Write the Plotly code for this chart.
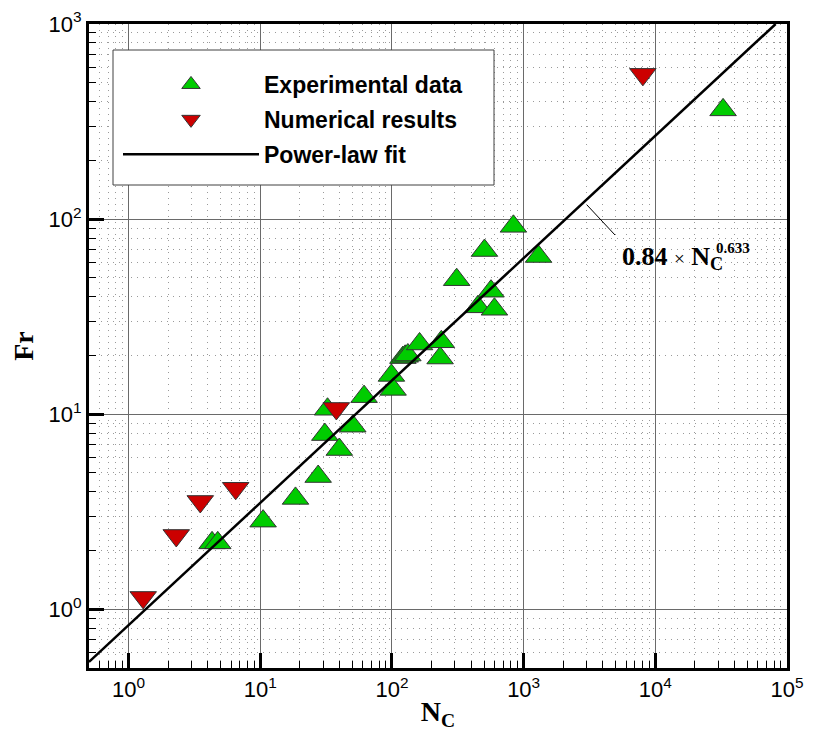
import plotly.graph_objects as go

# ---- data ----
exp_N = [4.3, 4.75, 10.5, 18.5, 27.5, 30.9, 32.4, 39.8, 50.4, 61.4, 99, 102,
         121, 126, 132, 162, 232, 237, 310, 449, 504, 565, 600, 836, 1297, 32700]
exp_Fr = [2.19, 2.19, 2.83, 3.70, 4.79, 7.86, 10.6, 6.59, 8.68, 12.3, 15.8, 13.4,
          19.5, 19.8, 20.1, 22.9, 19.4, 23.5, 48.9, 35.5, 69.0, 42.7, 34.5, 91.8, 64.3, 363]

num_N = [1.29, 2.30, 3.5, 6.5, 37.8, 8040]
num_Fr = [1.15, 2.39, 3.57, 4.17, 10.7, 552]

fit_N = [0.5, 82000]
fit_Fr = [0.537, 1000]

x_tick_vals = [1, 10, 100, 1000, 10000, 100000]
x_tick_text = ["10<sup>0</sup>", "10<sup>1</sup>", "10<sup>2</sup>",
               "10<sup>3</sup>", "10<sup>4</sup>", "10<sup>5</sup>"]
y_tick_vals = [1, 10, 100, 1000]
y_tick_text = ["10<sup>0</sup>", "10<sup>1</sup>", "10<sup>2</sup>", "10<sup>3</sup>"]

x_minor = [m * 10 ** e for e in range(-1, 5) for m in range(2, 10) if m * 10 ** e > 0.5]
y_minor = [m * 10 ** e for e in range(-1, 3) for m in range(2, 10) if m * 10 ** e > 0.5]

# page body has an 8px margin, so the figure is placed at (8, 8) in the window
OFF = 8
W, H = 814 - OFF, 731 - OFF
L, R, T, B = 89 - OFF, 27, 24 - OFF, 63
PW, PH = W - L - R, H - T - B


def px(xp):
    return (xp - OFF - L) / PW


def py(yp):
    return 1 - (yp - OFF - T) / PH


fig = go.Figure()
fig.add_trace(go.Scatter(
    x=exp_N, y=exp_Fr, mode="markers", name="Experimental data", legendgroup="a",
    marker=dict(symbol="triangle-up", size=23, color="#00CC00",
                line=dict(color="#333333", width=1))))
fig.add_trace(go.Scatter(
    x=num_N, y=num_Fr, mode="markers", name="Numerical results", legendgroup="b",
    marker=dict(symbol="triangle-down", size=23, color="#CC0000",
                line=dict(color="#333333", width=1))))
fig.add_trace(go.Scatter(
    x=fit_N, y=fit_Fr, mode="lines", name="Power-law fit", legendgroup="c",
    line=dict(color="black", width=2.5)))

axis_common = dict(
    type="log", showline=True, linecolor="black", linewidth=3, mirror=True,
    ticks="inside", ticklen=15, tickwidth=3, tickcolor="black",
    showgrid=True, gridcolor="#6a6a6a", gridwidth=1, zeroline=False,
    tickfont=dict(family="Liberation Sans, Arial", size=22, color="black"),
)

fig.update_xaxes(
    **axis_common, range=[-0.30103, 5], tickmode="array",
    tickvals=x_tick_vals, ticktext=x_tick_text,
    minor=dict(tickmode="array", tickvals=x_minor, ticks="inside", ticklen=7,
               tickwidth=1, tickcolor="black", showgrid=True,
               gridcolor="#9a9a9a", gridwidth=1, griddash="1px,5px"),
    title=dict(text="<b>N<sub>C</sub></b>", standoff=24,
               font=dict(family="Liberation Serif, Times New Roman", size=28, color="black")),
)
fig.update_yaxes(
    **axis_common, range=[-0.30103, 3], tickmode="array",
    tickvals=y_tick_vals, ticktext=y_tick_text,
    minor=dict(tickmode="array", tickvals=y_minor, ticks="inside", ticklen=7,
               tickwidth=1, tickcolor="black", showgrid=True,
               gridcolor="#9a9a9a", gridwidth=1, griddash="1px,5px"),
    title=dict(text="<b>Fr</b>", standoff=21,
               font=dict(family="Liberation Serif, Times New Roman", size=28, color="black")),
)

fig.update_layout(
    width=W, height=H,
    margin=dict(l=L, r=R, t=T, b=B, autoexpand=False),
    plot_bgcolor="white", paper_bgcolor="white",
    showlegend=True,
    legend=dict(
        x=px(118), y=py(63), xanchor="left", yanchor="top",
        bgcolor="rgba(0,0,0,0)", borderwidth=0, itemwidth=136, tracegroupgap=2,
        font=dict(family="Liberation Sans, Arial", size=23, color="black", weight="bold"),
    ),
    shapes=[
        dict(type="rect", xref="paper", yref="paper",
             x0=px(113), x1=px(494), y0=py(185), y1=py(50),
             fillcolor="white", line=dict(color="#404040", width=1), layer="above"),
        dict(type="line", xref="paper", yref="paper",
             x0=px(587), y0=py(205), x1=px(615), y1=py(235),
             line=dict(color="black", width=1)),
    ],
    annotations=[
        dict(xref="paper", yref="paper", x=px(620), y=py(258), xanchor="left", yanchor="middle",
             showarrow=False,
             text="<b>0.84</b> <span style='font-size:19px'>×</span> <b>N<sub>C</sub></b>",
             font=dict(family="Liberation Serif, Times New Roman", size=26, color="black")),
        dict(xref="paper", yref="paper", x=px(714), y=py(248), xanchor="left", yanchor="middle",
             showarrow=False, text="<b>0.633</b>",
             font=dict(family="Liberation Serif, Times New Roman", size=15, color="black")),
    ],
)

fig.write_html("out.html")
